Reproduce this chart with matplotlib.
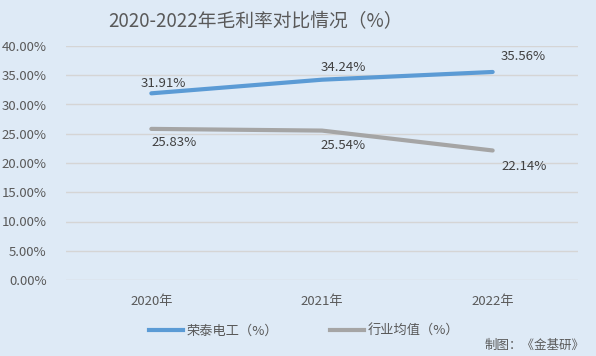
import matplotlib
matplotlib.use("Agg")
import matplotlib.pyplot as plt
from matplotlib.lines import Line2D
from matplotlib.ticker import FuncFormatter

plt.rcParams['font.family'] = ['Noto Sans CJK SC', 'DejaVu Sans']

years = ['2020年', '2021年', '2022年']
rongtai = [31.91, 34.24, 35.56]
industry = [25.83, 25.54, 22.14]
series_names = ['荣泰电工（%）', '行业均值（%）']
title = '2020-2022年毛利率对比情况（%）'
source = '制图：《金基研》'

bg = '#DEEAF6'
blue = '#5B9BD5'
gray = '#A5A5A5'
txt = '#595959'

fig = plt.figure(figsize=(5.96, 3.56), dpi=100, facecolor=bg)
ax = fig.add_axes([66/596, 1-280/356, 512/596, 234/356], facecolor=bg)

x = list(range(len(years)))
ax.plot(x, rongtai, color=blue, lw=3, solid_capstyle='round', zorder=3)
ax.plot(x, industry, color=gray, lw=3, solid_capstyle='round', zorder=3)

blue_off = [(12, 10), (21, 12), (31, 15)]
gray_off = [(23, -14), (21, -15), (32, -16)]
for i, v in enumerate(rongtai):
    ax.annotate(f'{v:.2f}%', (x[i], v), xytext=blue_off[i], textcoords='offset pixels',
                ha='center', va='center', fontsize=9.5, color='#404040')
for i, v in enumerate(industry):
    ax.annotate(f'{v:.2f}%', (x[i], v), xytext=gray_off[i], textcoords='offset pixels',
                ha='center', va='center', fontsize=9.5, color='#404040')

ax.set_xlim(-0.5, 2.5)
ax.set_ylim(0, 40)
ax.set_yticks(range(0, 41, 5))
ax.yaxis.set_major_formatter(FuncFormatter(lambda v, p: f'{v:.2f}%'))
ax.set_xticks(x)
ax.set_xticklabels(years)
ax.tick_params(axis='both', length=0, labelsize=9.5, colors=txt)
ax.tick_params(axis='y', pad=14)
ax.tick_params(axis='x', pad=11)
ax.grid(axis='y', color='#D5D5D5', lw=1)
ax.set_axisbelow(True)
for s in ax.spines.values():
    s.set_visible(False)

fig.text(255/596, 1-22/356, title, ha='center', va='center', fontsize=13.5, color=txt)

handles = [Line2D([0], [0], color=blue, lw=3), Line2D([0], [0], color=gray, lw=3)]
fig.legend(handles, series_names, loc='center', bbox_to_anchor=(304/596, 1-331/356),
           ncol=2, frameon=False, fontsize=9.5, labelcolor=txt, handlelength=2.6,
           handletextpad=0.25, columnspacing=3.9)

fig.text(585/596, 1-345/356, source, ha='right', va='center', fontsize=9, color=txt)

fig.savefig('out.png', dpi=100, facecolor=bg)
